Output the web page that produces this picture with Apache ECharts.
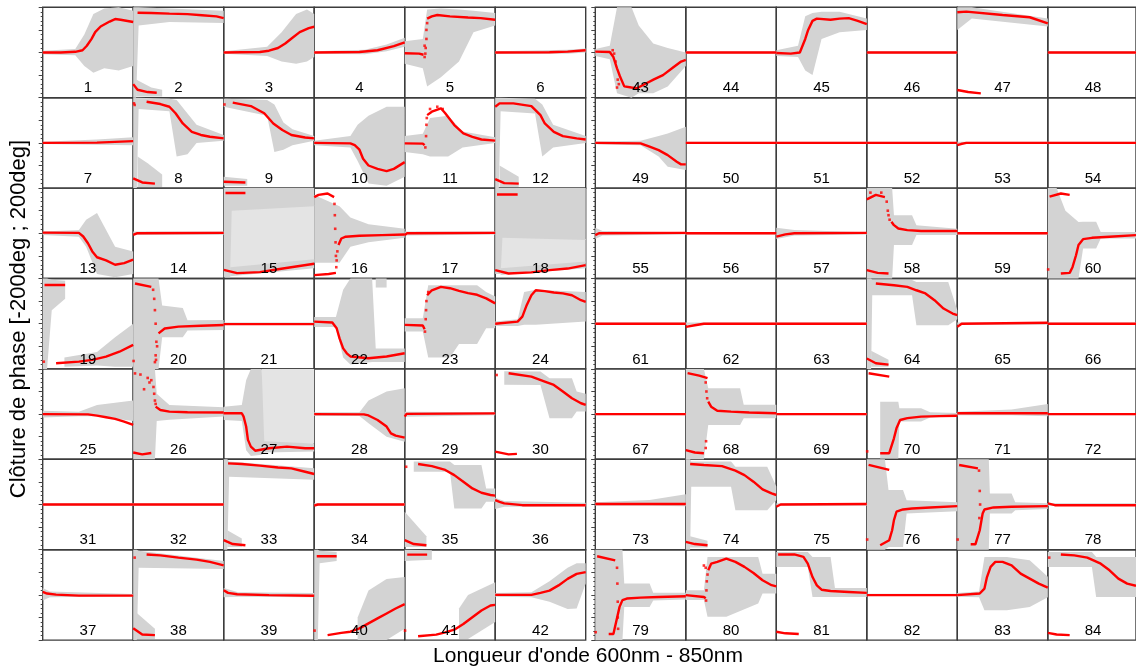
<!DOCTYPE html>
<html><head><meta charset="utf-8">
<script src="https://cdn.jsdelivr.net/npm/echarts@6/dist/echarts.min.js"></script>
<style>html,body{margin:0;padding:0;background:#fff}#c{width:1136px;height:669px}</style>
</head><body><div id="c"></div>
<script>
// ---- data: red = closure-phase segments [nm, deg]; g = dense gray band [nm, lo, hi]; s = sparse gray; d = isolated dots
const FLAT_R = [[[600,0],[850,0]]];
const FLAT_G = [[[600,-5,5],[850,-5,5]]];

const r1 = [[[600,0],[650,0],[690,3],[710,10],[722,30],[735,60],[745,90],[760,115],[785,137],[800,148],[815,145],[850,135]]];
const g1 = [[[600,-8,8],[690,-12,15],[715,-60,80],[740,-90,170],[770,-70,195],[810,-80,200],[850,-60,185]]];
const r2 = [[[612,176],[650,175],[700,172],[750,170],[790,165],[830,160],[850,152]],[[600,-140],[612,-165],[640,-175],[665,-178]]];
const g2 = [[[600,-200,200],[608,-200,200],[615,120,200],[700,135,195],[850,130,185]],[[608,-195,-120],[650,-195,-155],[680,-195,-165]]];
const r3 = [[[600,0],[700,2],[725,8],[750,20],[770,40],[790,65],[810,90],[835,108],[850,114]]];
const g3 = [[[600,-6,6],[720,-15,25],[760,-40,90],[800,-50,170],[830,-40,190],[850,-20,170]]];
const r4 = [[[600,0],[725,2],[775,10],[820,28],[850,45]]];
const g4 = [[[600,-6,6],[740,-8,12],[800,5,35],[850,25,65]]];
const r5 = [[[600,-3],[640,-5],[652,-10]],[[662,150],[675,160],[690,166],[725,160],[775,155],[810,152],[850,145]]];
const g5 = [[[600,-50,50],[650,-70,60],[662,-150,190],[700,-110,195],[750,-40,190],[790,90,185],[850,120,175]]];
const d5 = [[655,-20],[657,-5],[658,20],[660,60],[660,100],[655,30],[662,130]];
const r6 = [[[600,0],[750,1],[800,4],[850,10]]];
const g6 = [[[600,-6,6],[800,-5,12],[850,0,18]]];
const r7 = [[[600,0],[750,1],[850,8]]];
const g7 = [[[600,-5,5],[750,-8,15],[850,-10,25]]];
const r8 = [[[637,182],[675,172],[700,160],[717,131],[737,86],[762,49],[787,35],[812,27],[850,20]],[[600,-157],[625,-175],[660,-180]]];
const g8 = [[[600,-200,200],[610,-200,200],[615,150,200],[700,140,195],[720,-60,190],[750,-50,130],[775,0,80],[850,10,35]],[[612,-195,-60],[640,-195,-90],[680,-195,-140]]];
const d8 = [[602,175],[604,168]];
const r9 = [[[625,178],[675,163],[712,131],[737,86],[762,57],[787,35],[825,24],[850,20]],[[600,-172],[660,-175]]];
const g9 = [[[600,160,195],[720,120,190],[740,-40,170],[765,-30,90],[790,-10,60],[850,10,30]],[[600,-190,-150],[665,-190,-160]]];
const d9 = [[602,170]];
const r10 = [[[600,0],[700,-2],[712,-10],[725,-30],[735,-70],[750,-100],[775,-115],[800,-125],[820,-115],[850,-85]]];
const g10 = [[[600,-10,10],[700,-20,30],[720,-80,80],[750,-180,120],[800,-190,160],[850,-150,160]]];
const r11 = [[[600,-2],[650,-3],[655,-10]],[[662,123],[675,138],[700,153],[712,131],[737,79],[762,42],[787,27],[812,15],[850,10]]];
const g11 = [[[600,-40,30],[650,-50,40],[670,-60,110],[720,-60,120],[760,-20,50],[850,0,25]]];
const d11 = [[657,-20],[659,30],[660,80],[661,110],[670,150],[690,160],[705,150]];
const r12 = [[[600,160],[612,175],[650,175],[700,163],[725,123],[737,86],[762,49],[787,30],[825,20],[850,15]],[[600,-160],[625,-178],[665,-180]]];
const g12 = [[[600,-200,200],[610,-200,200],[615,140,200],[710,130,195],[730,-60,170],[760,-20,80],[850,0,30]],[[612,-195,-100],[665,-195,-150]]];
const r13 = [[[600,3],[700,2],[712,-14],[725,-44],[737,-80],[750,-106],[775,-120],[800,-139],[825,-132],[850,-117]]];
const g13 = [[[600,-8,8],[700,-15,15],[720,-60,60],[750,-180,90],[800,-195,-60],[850,-180,-80]]];
const r14 = [[[600,-7],[610,0],[850,2]]];
const g14 = [[[600,-8,8],[850,-6,8]]];
const r15 = [[[605,178],[660,178]],[[600,-162],[637,-176],[700,-172],[750,-159],[800,-147],[850,-135]]];
const g15 = [[[600,-195,200],[618,-195,200],[622,100,200],[850,120,200]],[[618,-190,-150],[850,-155,-115]]];
const s15 = [[[618,-180,110],[700,-160,110],[850,-125,125]]];
const r16 = [[[600,160],[612,170],[637,176],[655,160]],[[600,-185],[640,-180],[660,-175]],[[667,-52],[675,-23],[687,-15],[725,-11],[787,-8],[850,-5]]];
const g16 = [[[600,-130,170],[670,-130,120],[700,-60,70],[750,-40,40],[850,-20,20]]];
const d16 = [[656,130],[657,80],[658,20],[659,-40],[660,-100],[661,-150],[662,-120],[664,-80]];
const r17 = [[[600,-8],[606,0],[850,2]]];
const g17 = [[[600,-10,8],[850,-5,8]]];
const r18 = [[[605,172],[662,172]],[[600,-163],[637,-178],[700,-173],[750,-163],[800,-156],[850,-141]]];
const g18 = [[[600,-180,200],[615,-180,200],[620,-20,200],[850,-30,200]],[[615,-185,-155],[850,-155,-125]]];
const s18 = [[[615,-160,-15],[850,-130,-25]]];
const r19 = [[[605,171],[662,171]],[[637,-175],[700,-168],[737,-160],[775,-146],[812,-124],[850,-94]]];
const g19 = [[[600,-200,200],[612,-200,200],[625,60,195],[662,110,190]],[[660,-190,-150],[750,-185,-125],[800,-190,-60],[850,-190,0]]];
const d19 = [[603,-168]];
const r20 = [[[605,178],[650,163]],[[670,-43],[687,-21],[725,-13],[787,-9],[850,-6]]];
const g20 = [[[600,-200,200],[670,-200,200],[680,-60,80],[737,-60,70],[750,-30,15],[850,-28,16]]];
const d20 = [[655,150],[658,110],[660,60],[662,0],[664,-80],[662,-140],[660,-170],[663,-160],[666,-100],[601,-165]];
const r21 = [[[600,-2],[850,-2]]];
const r22 = [[[600,9],[650,5],[655,1],[662,-20],[670,-65],[680,-109],[690,-131],[700,-145],[750,-153],[800,-145],[850,-131]]];
const g22 = [[[600,-15,30],[660,-15,30],[680,-150,150],[700,-180,200],[760,-170,200],[770,-170,-110],[850,-170,-110]],[[770,160,200],[800,160,200]]];
const r23 = [[[600,-5],[650,-8],[655,-25]],[[662,126],[675,148],[700,163],[725,157],[750,145],[775,135],[800,128],[825,112],[850,90]]];
const g23 = [[[600,-35,24],[650,-35,24],[665,-150,170],[725,-150,170],[750,-90,170],[800,-90,170],[825,-20,140],[850,-20,120]]];
const d23 = [[656,-35],[658,20],[659,60],[660,100],[665,140]];
const r24 = [[[600,0],[662,9],[675,31],[687,82],[700,126],[712,148],[737,144],[762,138],[787,134],[812,126],[837,104],[850,97]]];
const g24 = [[[600,-10,10],[662,-10,20],[680,-5,140],[712,-5,150],[850,10,140]]];
const r25 = [[[600,0],[725,-1],[750,-7],[775,-14],[800,-21],[825,-33],[850,-48]]];
const g25 = [[[600,-15,15],[700,-10,10],[750,-10,40],[850,-30,60]]];
const r26 = [[[662,33],[675,18],[700,11],[750,8],[850,7]],[[600,-170],[625,-178],[650,-172]]];
const g26 = [[[600,-200,200],[660,-200,200],[665,-30,90],[700,-25,40],[850,-11,30]]];
const d26 = [[605,180],[620,175],[640,160],[650,150],[656,120],[658,90],[660,60],[662,45],[630,110],[645,140]];
const r27 = [[[600,4],[650,4],[655,-11],[662,-55],[667,-114],[675,-144],[687,-162],[725,-151],[775,-144],[825,-151],[850,-151]]];
const g27 = [[[600,-26,33],[650,-30,40],[662,-160,150],[675,-185,200],[705,-180,200],[712,-170,-120],[850,-165,-130]]];
const s27 = [[[705,-130,200],[850,-130,200]]];
const r28 = [[[600,0],[737,-1],[750,-6],[775,-26],[800,-55],[812,-85],[825,-95],[850,-104]]];
const g28 = [[[600,-8,8],[725,-8,8],[750,-40,60],[800,-100,100],[850,-122,114]]];
const r29 = [[[600,-11],[605,1],[850,3]]];
const g29 = [[[600,-12,10],[850,-5,8]]];
const r30 = [[[637,181],[700,166],[737,144],[762,129],[787,100],[812,70],[837,48],[850,41]],[[600,-166],[637,-178],[660,-176]]];
const g30 = [[[625,130,190],[725,129,188],[750,-18,159],[812,-18,159],[825,11,100],[850,11,90]]];
const d30 = [[604,173]];
const r33 = [[[612,182],[650,179],[700,172],[750,164],[787,160],[825,145],[850,135]],[[600,-158],[625,-175],[660,-180]]];
const g33 = [[[600,-200,200],[610,-200,200],[615,123,190],[850,110,160]],[[610,-188,-114],[650,-188,-150]]];
const r34 = [[[600,-5],[610,0],[850,0]]];
const r35 = [[[637,179],[675,170],[712,153],[737,130],[762,101],[787,71],[812,52],[837,42],[850,39]],[[600,-158],[625,-175],[660,-180]]];
const g35 = [[[625,145,190],[725,145,190],[737,-18,175],[812,-18,175],[825,12,71],[850,12,71]],[[600,-188,-32],[660,-188,-140]]];
const d35 = [[604,167]];
const r36 = [[[600,19],[612,12],[625,5],[675,-3],[850,-3]]];
const g36 = [[[600,-20,30],[625,-10,15],[850,-8,8]]];
const r37 = [[[600,13],[612,6],[637,1],[700,-3],[850,-3]]];
const g37 = [[[600,-25,30],[620,-10,15],[850,-6,4]]];
const r38 = [[[637,179],[675,175],[725,165],[775,156],[812,146],[850,131]],[[600,-148],[625,-175],[660,-178]]];
const g38 = [[[600,-200,200],[610,-200,200],[615,120,195],[850,115,150]],[[610,-195,-80],[660,-195,-150]]];
const d38 = [[604,165]];
const r39 = [[[600,21],[612,9],[637,3],[725,-1],[850,-4]]];
const g39 = [[[600,-10,30],[640,-8,12],[850,-10,8]]];
const r40 = [[[607,171],[662,171]],[[637,-178],[675,-168],[700,-163],[725,-148],[750,-126],[775,-104],[800,-82],[825,-60],[850,-41]]];
const g40 = [[[600,-200,200],[610,-200,200],[615,140,195],[662,150,190]],[[720,-200,-100],[750,-200,20],[800,-200,70],[850,-150,79]]];
const d40 = [[601,-158]];
const r41 = [[[607,178],[662,178]],[[637,-183],[687,-176],[712,-166],[737,-154],[762,-129],[787,-99],[812,-69],[837,-47],[850,-44]]];
const g41 = [[[600,150,200],[675,155,198]],[[750,-195,-60],[775,-195,0],[850,-120,56]]];
const d41 = [[601,-158]];
const r42 = [[[600,0],[700,0],[725,9],[750,19],[775,42],[800,71],[825,93],[850,101]]];
const g42 = [[[600,-8,8],[700,-10,12],[750,-30,60],[800,-62,120],[825,-60,140],[850,50,140]]];
const r43 = [[[600,4],[640,2],[650,-20],[660,-70],[668,-105],[680,-150],[700,-155],[715,-158],[740,-137],[762,-119],[787,-100],[812,-70],[837,-40],[850,-33]]];
const g43 = [[[600,-15,15],[640,-30,30],[660,-180,200],[700,-200,200],[720,-180,120],[760,-180,40],[800,-150,20],[850,-60,0]]];
const d43 = [[648,10],[652,-5],[656,-40],[662,-120],[665,-140],[660,-155]];
const r45 = [[[600,-2],[640,-5],[665,0],[670,20],[680,60],[688,100],[700,140],[712,150],[750,145],[775,150],[800,152],[825,140],[850,126]]];
const g45 = [[[600,-15,10],[660,-20,30],[680,-80,160],[700,-100,175],[725,60,180],[775,90,180],[850,100,150]]];
const r47 = [[[600,178],[625,181],[725,166],[800,156],[850,129]],[[600,-166],[630,-175],[665,-181]]];
const g47 = [[[600,100,200],[640,150,200],[850,115,150]]];
const r49 = [[[600,0],[725,-2],[750,-17],[775,-32],[800,-54],[825,-83],[837,-95],[850,-95]]];
const g49 = [[[600,-6,6],[725,-10,10],[775,-60,30],[800,-105,42],[850,-120,71]]];
const r53 = [[[600,-10],[610,-5],[625,0],[850,0]]];
const r55 = [[[600,-8],[603,-15],[610,0],[850,2]]];
const g55 = [[[600,-25,25],[620,-10,10],[850,-5,5]]];
const r57 = [[[600,-15],[625,-5],[650,0],[850,2]]];
const g57 = [[[600,-25,25],[650,-10,15],[850,-5,5]]];
const r58 = [[[600,150],[625,170],[650,160]],[[600,-163],[630,-175],[660,-178]],[[668,51],[675,36],[687,21],[712,14],[750,10],[850,10]]];
const g58 = [[[600,-200,200],[670,-200,200],[675,-52,80],[725,-52,80],[737,-8,36],[850,-8,20]]];
const d58 = [[655,140],[658,100],[660,80],[663,60],[640,180],[610,180]];
const r60 = [[[605,162],[637,176],[662,170]],[[637,-178],[662,-175],[670,-150],[680,-97],[687,-52],[700,-26],[725,-20],[775,-15],[850,-8]]];
const g60 = [[[600,-200,200],[625,-200,200],[650,-200,100],[687,-200,50],[700,-67,51],[737,-67,51],[750,-23,6],[850,-23,6]]];
const d60 = [[601,-160]];
const r62 = [[[600,-14],[625,-7],[650,0],[850,0]]];
const r64 = [[[625,178],[675,170],[712,163],[737,148],[762,134],[787,104],[812,67],[837,45],[850,38]],[[600,-154],[625,-175],[660,-181]]];
const g64 = [[[600,-200,200],[612,-200,200],[615,126,193],[725,126,193],[737,-7,185],[825,-7,185],[850,20,60]],[[612,-190,-120],[660,-190,-160]]];
const r65 = [[[600,-14],[612,0],[850,4]]];
const r68 = [[[605,181],[637,170],[660,159]],[[600,-159],[625,-170],[650,-173]],[[662,55],[670,33],[687,15],[725,11],[775,7],[850,4]]];
const g68 = [[[600,-200,200],[650,-200,200],[662,-48,114],[750,-48,114],[760,-18,41],[850,-18,41]]];
const d68 = [[655,140],[657,100],[659,70],[655,-150],[656,-120]];
const r70 = [[[605,181],[662,166]],[[637,-173],[662,-173],[675,-107],[682,-63],[692,-26],[712,-18],[750,-11],[800,-9],[850,-7]]];
const g70 = [[[637,-196,55],[687,-196,55],[690,-33,26],[750,-33,26],[775,-15,8],[850,-10,5]]];
const d70 = [[601,-165]];
const r71 = [[[600,4],[850,4]]];
const g71 = [[[600,-5,10],[750,-5,20],[850,-10,45]]];
const r73 = [[[600,2],[850,2]]];
const g73 = [[[600,-5,10],[750,-5,20],[850,-8,45]]];
const r74 = [[[612,179],[650,175],[700,170],[737,150],[762,130],[787,101],[812,67],[837,49],[850,42]],[[600,-165],[625,-175],[660,-180]]];
const g74 = [[[600,-200,200],[612,-200,200],[615,79,190],[725,79,190],[737,-25,167],[825,-25,167],[850,20,80]],[[612,-190,-140],[660,-190,-160]]];
const r75 = [[[600,-10],[612,0],[850,2]]];
const r76 = [[[605,175],[662,153]],[[637,-180],[662,-158],[670,-114],[675,-69],[682,-32],[700,-22],[725,-18],[775,-13],[850,-7]]];
const g76 = [[[600,-200,200],[650,-200,200],[660,-188,64],[700,-188,64],[710,-40,19],[850,-30,10]]];
const d76 = [[601,-155]];
const r77 = [[[605,175],[657,160]],[[637,-176],[650,-176],[662,-114],[670,-40],[675,-22],[700,-13],[750,-10],[850,-7]]];
const g77 = [[[600,-200,200],[687,-200,200],[690,-40,49],[750,-40,49],[760,-25,10],[850,-20,5]]];
const d77 = [[660,150],[662,60],[663,0],[661,-60],[601,-155]];
const r78 = [[[600,5],[620,-3],[850,-3]]];
const r79 = [[[605,171],[655,153]],[[637,-173],[650,-173],[667,-53],[675,-23],[687,-16],[725,-12],[775,-9],[850,-6]]];
const g79 = [[[600,-200,200],[675,-200,200],[680,-53,50],[750,-53,50],[760,-25,10],[850,-20,10]]];
const d79 = [[660,120],[661,50],[662,-30],[662,-100],[663,-150],[601,-165]];
const r80 = [[[600,-1],[650,-9],[655,-15]],[[662,109],[670,138],[687,146],[712,160],[737,146],[762,124],[787,97],[812,65],[837,43],[850,38]]];
const g80 = [[[600,-23,21],[650,-23,21],[660,-97,168],[712,-97,168],[800,-38,168],[812,6,94],[850,6,94]]];
const d80 = [[656,-25],[657,20],[658,60],[660,90],[650,130],[655,120]];
const r81 = [[[605,179],[650,179],[675,168],[687,138],[700,79],[712,42],[725,23],[750,17],[800,13],[850,9]],[[600,-163],[625,-170],[662,-173]]];
const g81 = [[[600,124,190],[687,124,190],[700,-9,168],[750,-9,168],[762,-9,30],[850,-9,30]]];
const r82 = [[[600,-1],[850,-1]]];
const r83 = [[[600,-1],[662,6],[675,28],[682,79],[692,124],[705,146],[725,146],[750,131],[775,94],[800,72],[825,50],[850,32]]];
const g83 = [[[600,-8,8],[660,-10,15],[675,-68,168],[737,-68,168],[800,-53,153],[850,-10,80]]];
const r84 = [[[637,179],[675,175],[712,165],[750,138],[775,109],[800,72],[825,50],[850,40]],[[600,-168],[625,-175],[662,-178]]];
const g84 = [[[600,124,190],[725,124,190],[737,-9,168],[850,-9,168]]];
const d84 = [[604,165]];

const RED = [r1,r2,r3,r4,r5,r6,r7,r8,r9,r10,r11,r12,r13,r14,r15,r16,r17,r18,r19,r20,r21,r22,r23,r24,r25,r26,r27,r28,r29,r30,
  FLAT_R,FLAT_R,r33,r34,r35,r36,r37,r38,r39,r40,r41,r42,
  r43,FLAT_R,r45,FLAT_R,r47,FLAT_R,r49,FLAT_R,FLAT_R,FLAT_R,r53,FLAT_R,r55,FLAT_R,r57,r58,FLAT_R,r60,
  FLAT_R,r62,FLAT_R,r64,r65,FLAT_R,FLAT_R,r68,FLAT_R,r70,r71,FLAT_R,r73,r74,r75,r76,r77,r78,r79,r80,r81,r82,r83,r84];
const GRAY = [g1,g2,g3,g4,g5,g6,g7,g8,g9,g10,g11,g12,g13,g14,g15,g16,g17,g18,g19,g20,FLAT_G,g22,g23,g24,g25,g26,g27,g28,g29,g30,
  FLAT_G,FLAT_G,g33,FLAT_G,g35,g36,g37,g38,g39,g40,g41,g42,
  g43,FLAT_G,g45,FLAT_G,g47,FLAT_G,g49,FLAT_G,FLAT_G,FLAT_G,FLAT_G,FLAT_G,g55,FLAT_G,g57,g58,FLAT_G,g60,
  FLAT_G,FLAT_G,FLAT_G,g64,FLAT_G,FLAT_G,FLAT_G,g68,FLAT_G,g70,g71,FLAT_G,g73,g74,FLAT_G,g76,g77,FLAT_G,g79,g80,g81,FLAT_G,g83,g84];
const SPARSE = [[15,s15],[18,s18],[27,s27]];
const DOTS = [[5,d5],[8,d8],[9,d9],[11,d11],[16,d16],[19,d19],[20,d20],[23,d23],[26,d26],[30,d30],[35,d35],[38,d38],[40,d40],[41,d41],
  [43,d43],[58,d58],[60,d60],[68,d68],[70,d70],[76,d76],[77,d77],[79,d79],[80,d80],[84,d84]];

const X_TITLE = "Longueur d'onde 600nm - 850nm";
const Y_TITLE = "Clôture de phase [-200deg ; 200deg]";

// ---- layout
const BLOCK_LEFT = [42.7, 595.3], TOP0 = 7.3, PW = 90.5, PH = 90.4;
const FONT = '"Liberation Sans", Arial, Helvetica, sans-serif';
const grids = [], xAxes = [], yAxes = [], series = [], graphics = [];

function bandSeries(gi, band, color, z) {
  return {
    type: 'custom', xAxisIndex: gi, yAxisIndex: gi, silent: true, animation: false, z: z,
    data: band, encode: { x: 0, y: [1, 2] },
    renderItem: function (params, api) {
      if (params.dataIndex !== 0) return null;
      const pts = [];
      for (let k = 0; k < band.length; k++) pts.push(api.coord([band[k][0], band[k][2]]));
      for (let k = band.length - 1; k >= 0; k--) pts.push(api.coord([band[k][0], band[k][1]]));
      return { type: 'polygon', shape: { points: pts }, style: { fill: color } };
    }
  };
}

for (let i = 0; i < 84; i++) {
  const b = i < 42 ? 0 : 1, j = i % 42, row = Math.floor(j / 6), col = j % 6;
  const left = BLOCK_LEFT[b] + col * PW, top = TOP0 + row * PH;
  grids.push({ left: left, top: top, width: PW, height: PH, show: true, borderColor: '#3c3c3c', borderWidth: 1.4, backgroundColor: 'transparent' });
  xAxes.push({ gridIndex: i, type: 'value', min: 600, max: 850, show: false });
  yAxes.push({ gridIndex: i, type: 'value', min: -200, max: 200, interval: 100,
    axisLine: { show: false }, splitLine: { show: false }, axisLabel: { show: false },
    axisTick: { show: col === 0, length: 4, lineStyle: { color: '#444', width: 1 } },
    minorTick: { show: col === 0, splitNumber: 5, length: 2, lineStyle: { color: '#444', width: 1 } } });
  const n = i + 1;
  SPARSE.forEach(function (p) { if (p[0] === n) p[1].forEach(function (band) { series.push(bandSeries(i, band, '#e4e4e4', 1)); }); });
  GRAY[i].forEach(function (band) { series.push(bandSeries(i, band, '#d3d3d3', 2)); });
  RED[i].forEach(function (seg) {
    series.push({ type: 'line', xAxisIndex: i, yAxisIndex: i, data: seg, showSymbol: false, silent: true, animation: false, z: 3,
      lineStyle: { color: '#ff0000', width: 2.4 } });
  });
  DOTS.forEach(function (p) {
    if (p[0] === n) series.push({ type: 'scatter', xAxisIndex: i, yAxisIndex: i, data: p[1], symbol: 'rect', symbolSize: 2.6,
      silent: true, animation: false, z: 3, itemStyle: { color: '#ff0000' } });
  });
  graphics.push({ type: 'text', x: left + PW / 2, y: top + 81, z: 10,
    style: { text: String(n), textAlign: 'center', textVerticalAlign: 'middle', font: '15px ' + FONT, fill: '#000' } });
}
graphics.push({ type: 'text', x: 588, y: 656, z: 10,
  style: { text: X_TITLE, textAlign: 'center', textVerticalAlign: 'middle', font: '21px ' + FONT, fill: '#000' } });
graphics.push({ type: 'text', x: 19, y: 319, rotation: Math.PI / 2, z: 10,
  style: { text: Y_TITLE, textAlign: 'center', textVerticalAlign: 'middle', font: '22px ' + FONT, fill: '#000' } });

const chart = echarts.init(document.getElementById('c'), null, { renderer: 'canvas' });
chart.setOption({ animation: false, backgroundColor: '#fff', grid: grids, xAxis: xAxes, yAxis: yAxes, series: series, graphic: graphics });
</script></body></html>
